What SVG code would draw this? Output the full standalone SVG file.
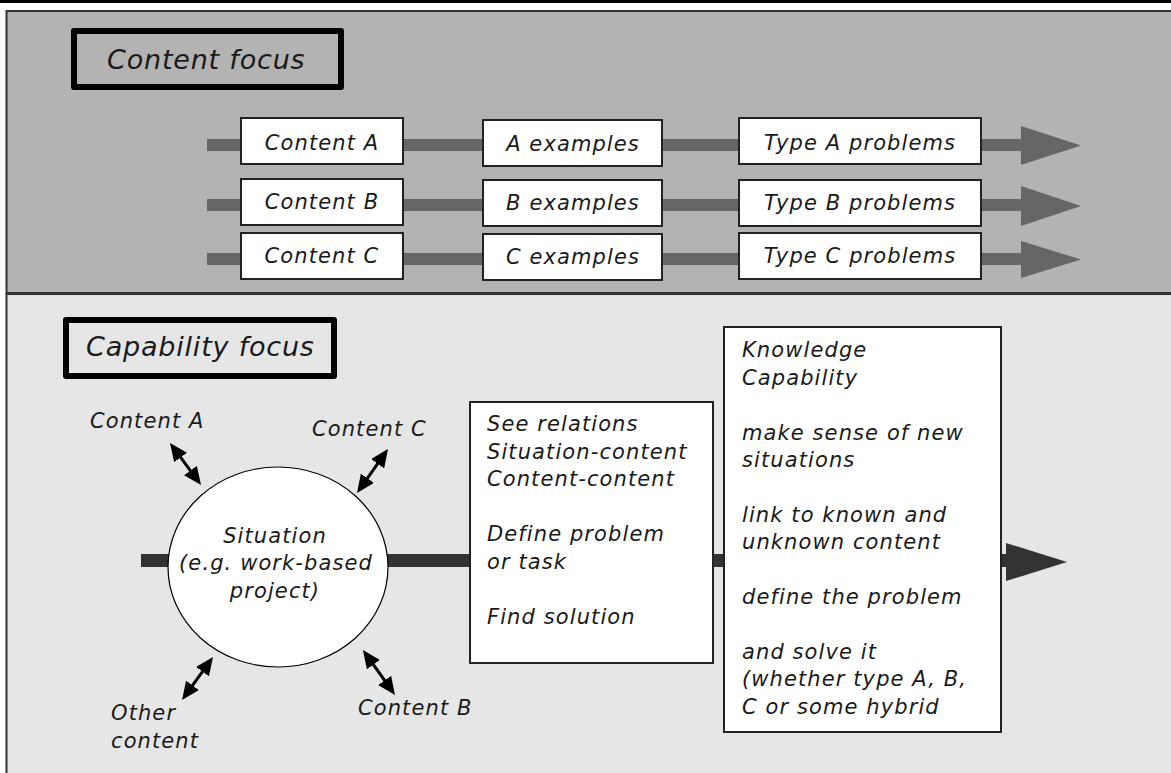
<svg xmlns="http://www.w3.org/2000/svg" width="1171" height="773" viewBox="0 0 1171 773">
<style>
text{font-family:"DejaVu Sans","Liberation Sans",sans-serif;font-style:italic;fill:#1a1a1a;}
.t20{font-size:21px;letter-spacing:1.1px;}
.title{font-size:27px;letter-spacing:0.8px;}
.box{fill:#ffffff;stroke:#222;stroke-width:2;}
.tbox{fill:none;stroke:#000;stroke-width:6;stroke-linejoin:round;}
.gbar{stroke:#666;stroke-width:12;fill:none;}
.dbar{stroke:#333;stroke-width:13;fill:none;}
.dbl{stroke:#000;stroke-width:3;fill:none;marker-start:url(#bh);marker-end:url(#bh);}
.mid{text-anchor:middle;}
</style>
<defs>
<marker id="bh" viewBox="0 0 18 16" markerWidth="18" markerHeight="16" markerUnits="userSpaceOnUse" refX="9" refY="8" orient="auto-start-reverse">
<path d="M0,0 L18,8 L0,16 z" fill="#000"/>
</marker>
</defs>
<rect x="0" y="0" width="1171" height="773" fill="#ffffff"/>
<rect x="0" y="0" width="1171" height="3" fill="#000"/>
<g id="panel-content">
<rect x="6.5" y="11" width="1170" height="282" fill="#b3b3b3" stroke="#333" stroke-width="2"/>
</g>
<g id="panel-capability">
<rect x="6.5" y="294" width="1170" height="485" fill="#e6e6e6" stroke="#333" stroke-width="2"/>
</g>
<g id="connectors">
<line class="gbar" x1="207" y1="145" x2="1022" y2="145"/>
<path d="M1021,126 L1081,145.5 L1021,165 z" fill="#666"/>
<line class="gbar" x1="207" y1="205" x2="1022" y2="205"/>
<path d="M1021,186 L1081,206 L1021,226 z" fill="#666"/>
<line class="gbar" x1="207" y1="259" x2="1022" y2="259"/>
<path d="M1021,241 L1081,259.5 L1021,278 z" fill="#666"/>
<line class="dbar" x1="141" y1="560.5" x2="1007" y2="560.5"/>
<path d="M1006,543 L1067,562 L1006,581 z" fill="#333"/>
<line class="dbl" x1="175.3" y1="450.2" x2="195.7" y2="477.8"/>
<line class="dbl" x1="382.8" y1="456.4" x2="362.2" y2="485.6"/>
<line class="dbl" x1="207.7" y1="664.3" x2="187.3" y2="692.7"/>
<line class="dbl" x1="368.2" y1="657.3" x2="389.8" y2="687.7"/>
</g>
<g id="content-focus">
<rect class="tbox" x="74" y="31" width="267" height="56"/>
<text class="title" x="107" y="69">Content focus</text>
</g>
<g id="content-a">
<rect class="box" x="241" y="118" width="162" height="46"/>
<text class="t20 mid" x="322" y="150">Content A</text>
</g>
<g id="content-b">
<rect class="box" x="241" y="179" width="162" height="46"/>
<text class="t20 mid" x="322" y="209">Content B</text>
</g>
<g id="content-c">
<rect class="box" x="241" y="233" width="162" height="46"/>
<text class="t20 mid" x="322" y="263">Content C</text>
</g>
<g id="a-examples">
<rect class="box" x="483" y="120" width="179" height="46"/>
<text class="t20 mid" x="573" y="151">A examples</text>
</g>
<g id="b-examples">
<rect class="box" x="483" y="180" width="179" height="46"/>
<text class="t20 mid" x="573" y="210">B examples</text>
</g>
<g id="c-examples">
<rect class="box" x="483" y="234" width="179" height="46"/>
<text class="t20 mid" x="573" y="264">C examples</text>
</g>
<g id="type-a">
<rect class="box" x="739" y="118" width="242" height="46"/>
<text class="t20 mid" x="860" y="150">Type A problems</text>
</g>
<g id="type-b">
<rect class="box" x="739" y="180" width="242" height="46"/>
<text class="t20 mid" x="860" y="210">Type B problems</text>
</g>
<g id="type-c">
<rect class="box" x="739" y="233" width="242" height="46"/>
<text class="t20 mid" x="860" y="263">Type C problems</text>
</g>
<g id="capability-focus">
<rect class="tbox" x="66" y="320" width="268" height="56"/>
<text class="title" x="86" y="356">Capability focus</text>
</g>
<g id="situation">
<ellipse cx="278" cy="567" rx="110" ry="100" fill="#fff" stroke="#000" stroke-width="1.2"/>
<text class="t20 mid" x="275" y="543">Situation</text>
<text class="t20 mid" x="276" y="570">(e.g. work-based</text>
<text class="t20 mid" x="275" y="598">project)</text>
</g>
<g id="label-content-a"><text class="t20" x="90" y="428">Content A</text></g>
<g id="label-content-c"><text class="t20" x="312" y="436">Content C</text></g>
<g id="label-other"><text class="t20" x="111" y="720">Other</text><text class="t20" x="111" y="748">content</text></g>
<g id="label-content-b"><text class="t20" x="358" y="715">Content B</text></g>
<g id="relations">
<rect class="box" x="470" y="402" width="243" height="261"/>
<text class="t20" x="487" y="431">See relations</text>
<text class="t20" x="487" y="458.5">Situation-content</text>
<text class="t20" x="487" y="486">Content-content</text>
<text class="t20" x="487" y="541">Define problem</text>
<text class="t20" x="487" y="568.5">or task</text>
<text class="t20" x="487" y="623.5">Find solution</text>
</g>
<g id="knowledge">
<rect class="box" x="724" y="327" width="277" height="405"/>
<text class="t20" x="742" y="357">Knowledge</text>
<text class="t20" x="742" y="384.5">Capability</text>
<text class="t20" x="742" y="439.5">make sense of new</text>
<text class="t20" x="742" y="467">situations</text>
<text class="t20" x="742" y="521.5">link to known and</text>
<text class="t20" x="742" y="549">unknown content</text>
<text class="t20" x="742" y="604">define the problem</text>
<text class="t20" x="742" y="658.5">and solve it</text>
<text class="t20" x="742" y="686">(whether type A, B,</text>
<text class="t20" x="742" y="713.5">C or some hybrid</text>
</g>
</svg>
